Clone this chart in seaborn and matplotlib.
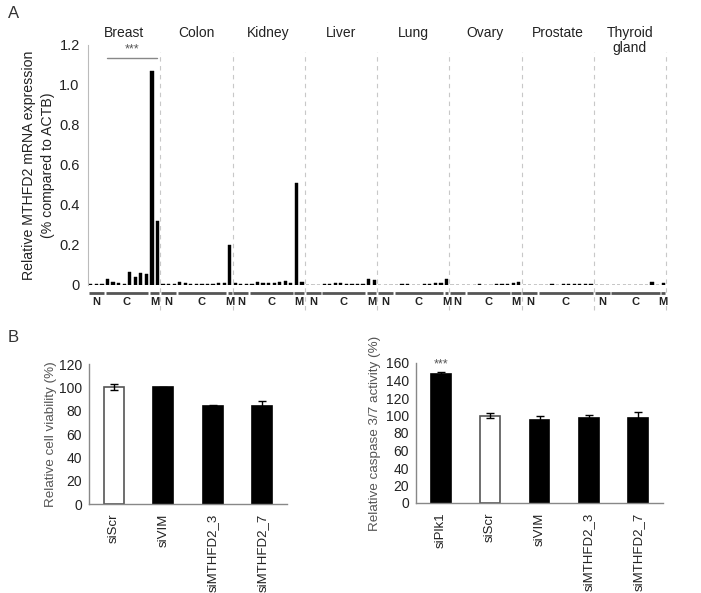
import numpy as np
import pandas as pd
import matplotlib
matplotlib.use("Agg")
import matplotlib.pyplot as plt
import matplotlib.transforms as mtransforms
import seaborn as sns

# ---------------- data: panel A ----------------
tissues = ["Breast", "Colon", "Kidney", "Liver", "Lung", "Ovary", "Prostate", "Thyroid\ngland"]

breast_n = [0.003, 0.003, 0.003]
breast_c = [0.03, 0.015, 0.012, 0.003, 0.065, 0.04, 0.06, 0.055]
breast_m = [1.07, 0.32]

colon_n = [0.003, 0.003, 0.003]
colon_c = [0.015, 0.01, 0.005, 0.004, 0.003, 0.003, 0.006, 0.01, 0.012]
colon_m = [0.2]

kidney_n = [0.012, 0.005, 0.004]
kidney_c = [0.005, 0.015, 0.01, 0.008, 0.008, 0.015, 0.02, 0.01]
kidney_m = [0.51, 0.015]

liver_n = [0.002, 0.002, 0.002]
liver_c = [0.003, 0.005, 0.012, 0.008, 0.006, 0.006, 0.006, 0.004]
liver_m = [0.03, 0.025]

lung_n = [0.002, 0.002, 0.002]
lung_c = [0.002, 0.004, 0.003, 0.002, 0.002, 0.003, 0.006, 0.008, 0.01]
lung_m = [0.03]

ovary_n = [0.002, 0.002, 0.002]
ovary_c = [0.002, 0.002, 0.003, 0.002, 0.002, 0.003, 0.004, 0.004]
ovary_m = [0.012, 0.015]

prostate_n = [0.002, 0.002, 0.002]
prostate_c = [0.002, 0.002, 0.003, 0.002, 0.004, 0.003, 0.006, 0.004, 0.004, 0.006]
prostate_m = []

thyroid_n = [0.002, 0.002, 0.002]
thyroid_c = [0.002, 0.002, 0.002, 0.002, 0.002, 0.002, 0.002, 0.015, 0.002]
thyroid_m = [0.008]

group_names = ["N", "C", "M"]
a_yticks = [0, 0.2, 0.4, 0.6, 0.8, 1.0, 1.2]
a_yticklabels = ["0", "0.2", "0.4", "0.6", "0.8", "1.0", "1.2"]

# ---------------- data: panel B ----------------
via_cats = ["siScr", "siVIM", "siMTHFD2_3", "siMTHFD2_7"]
via_vals = [100, 100, 84, 84]
via_errs = [2.5, 0.5, 0.5, 4]

cas_cats = ["siPlk1", "siScr", "siVIM", "siMTHFD2_3", "siMTHFD2_7"]
cas_vals = [148, 100, 95, 97, 97]
cas_errs = [1.5, 2.5, 4, 4, 7]

# ---------------- style ----------------
sns.set_style("white")
plt.rcParams["font.family"] = ["Liberation Sans", "DejaVu Sans"]

W, H = 701, 593
fig = plt.figure(figsize=(W / 100, H / 100), dpi=100)

def px_axes(l, t, r, b):
    return fig.add_axes([l / W, 1 - b / H, (r - l) / W, (b - t) / H])

# ================= Panel A =================
tissue_groups = [
    (breast_n, breast_c, breast_m), (colon_n, colon_c, colon_m),
    (kidney_n, kidney_c, kidney_m), (liver_n, liver_c, liver_m),
    (lung_n, lung_c, lung_m), (ovary_n, ovary_c, ovary_m),
    (prostate_n, prostate_c, prostate_m), (thyroid_n, thyroid_c, thyroid_m),
]
rows = []
for t, groups in zip(tissues, tissue_groups):
    for g, vals in zip(group_names, groups):
        for i, v in enumerate(vals):
            rows.append({"slot": f"{t}|{g}{i}", "tissue": t, "group": g, "value": v})
dfa = pd.DataFrame(rows)

axA = px_axes(88, 45, 666, 285)
sns.barplot(data=dfa, x="slot", y="value", color="black", width=0.58,
            errorbar=None, ax=axA, saturation=1)
for p in axA.patches:
    p.set_edgecolor("black")
    p.set_linewidth(0.3)
axA.set_xlim(-0.5, len(dfa) - 0.5)
axA.set_ylim(0, 1.2)
axA.set_xticks([])
axA.set_xlabel("")
axA.set_yticks(a_yticks)
axA.set_yticklabels(a_yticklabels)
axA.tick_params(axis="y", length=3, color="#bbbbbb", labelsize=10.5, labelcolor="#222222", pad=3)
for s in ["top", "right", "bottom"]:
    axA.spines[s].set_visible(False)
axA.spines["left"].set_color("#bbbbbb")
axA.spines["left"].set_linewidth(0.8)
axA.axhline(0, color="#aaaaaa", lw=0.8, ls=(0, (2, 2)), zorder=0)
axA.set_ylabel("Relative MTHFD2 mRNA expression\n(% compared to ACTB)",
               fontsize=10.2, color="#222222", linespacing=1.45)
axA.yaxis.set_label_coords(-0.057, 0.5)

trans = mtransforms.blended_transform_factory(axA.transData, axA.transAxes)
pos = 0
for t, groups in zip(tissues, tissue_groups):
    start = pos
    for g, vals in zip(group_names, groups):
        n = len(vals)
        if n == 0:
            continue
        a, b = pos, pos + n - 1
        axA.plot([a - 0.35, b + 0.35], [-0.033, -0.033], color="#555555", lw=2,
                 transform=trans, clip_on=False, solid_capstyle="butt")
        axA.text((a + b) / 2, -0.072, g, transform=trans, ha="center", va="center",
                 fontsize=8, color="#222222", fontweight="bold")
        pos += n
    end = pos - 1
    axA.text((start + end) / 2, 1.078, t, transform=trans, ha="center", va="top",
             fontsize=10, color="#222222", linespacing=1.1)
    axA.plot([end + 0.5, end + 0.5], [-0.105, 0.97], color="#c8c8c8", lw=0.8,
             ls=(0, (4, 4)), transform=trans, clip_on=False)

# significance bar over breast
axA.plot([3, 12], [1.135, 1.135], color="#888888", lw=1)
axA.text(7.5, 1.15, "***", ha="center", va="bottom", fontsize=9, color="#555555")

# ================= Panel B helpers =================
def bar_panel(ax, cats, vals, errs, ymax, step, ylabel, label_x):
    df = pd.DataFrame({"cat": cats, "val": vals})
    pal = {c: ("white" if c == "siScr" else "black") for c in cats}
    sns.barplot(data=df, x="cat", y="val", hue="cat", palette=pal, legend=False,
                width=0.4, errorbar=None, ax=ax, saturation=1)
    for p, c in zip(ax.patches, cats):
        p.set_edgecolor("#555555" if c == "siScr" else "black")
        p.set_linewidth(1.2)
    ax.errorbar(np.arange(len(cats)), vals, yerr=errs, fmt="none", ecolor="black",
                elinewidth=1, capsize=3, capthick=1)
    ax.set_xlim(-0.5, len(cats) - 0.5)
    ax.set_ylim(0, ymax)
    ax.set_yticks(np.arange(0, ymax + 1, step))
    ax.set_xlabel("")
    ax.set_ylabel(ylabel, fontsize=9.7, color="#555555")
    ax.yaxis.set_label_coords(label_x, 0.5)
    for s in ["top", "right"]:
        ax.spines[s].set_visible(False)
    for s in ["left", "bottom"]:
        ax.spines[s].set_color("#888888")
        ax.spines[s].set_linewidth(1)
    ax.tick_params(axis="y", length=3, color="#888888", labelsize=10, labelcolor="#222222", pad=2)
    ax.tick_params(axis="x", which="major", length=0, labelsize=9.5, labelcolor="#222222",
                   rotation=90, pad=7)
    ax.set_xticks(np.arange(-0.5, len(cats), 1.0), minor=True)
    ax.tick_params(axis="x", which="minor", length=4, color="#888888", direction="out")

axB1 = px_axes(89, 364, 287, 504)
bar_panel(axB1, via_cats, via_vals, via_errs, 120, 20, "Relative cell viability (%)", -0.16)

axB2 = px_axes(416, 363, 663, 503)
bar_panel(axB2, cas_cats, cas_vals, cas_errs, 160, 20, "Relative caspase 3/7 activity (%)", -0.14)
axB2.text(0, 152, "***", ha="center", va="bottom", fontsize=9, color="#555555")

fig.text(8 / W, 1 - 14 / H, "A", fontsize=12, color="#333333", va="center")
fig.text(8 / W, 1 - 338 / H, "B", fontsize=12, color="#333333", va="center")

fig.savefig("out.png", dpi=100)
